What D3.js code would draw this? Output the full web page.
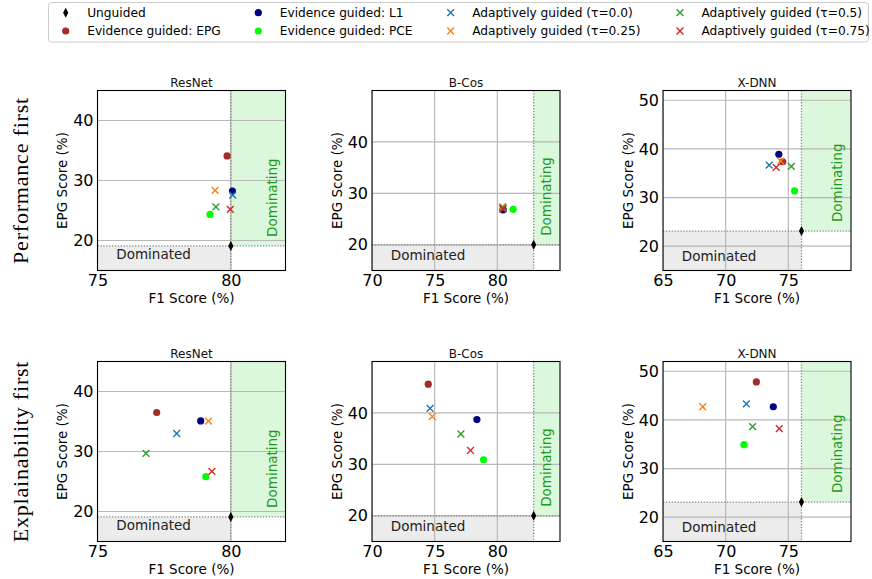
<!DOCTYPE html>
<html>
<head>
<meta charset="utf-8">
<script src="https://cdn.jsdelivr.net/npm/d3@7"></script>
<style>
  html, body { margin: 0; padding: 0; background: #fff; }
  svg { display: block; font-family: "DejaVu Sans", sans-serif; }
</style>
</head>
<body>
<svg id="chart" width="872" height="579"></svg>
<script>
// Panels: rows are training strategies, columns are backbones.
const models = ["ResNet", "B-Cos", "X-DNN"];
const strategies = ["Performance first", "Explainability first"];

// Axis limits and ticks per backbone column
const xLo = [75, 70, 65];
const xHi = [82.05, 85, 80];
const yLo = [15, 15, 15];
const yHi = [45, 50, 52];
const xTickVals = [[75, 80], [70, 75, 80], [65, 70, 75]];
const yTickVals = [[20, 30, 40], [20, 30, 40], [20, 30, 40, 50]];

// Unguided baseline per backbone (same in both rows)
const unguidedF1  = [80.0, 82.9, 76.05];
const unguidedEPG = [19.1, 20.0, 23.1];

// Values are ordered: Perf/ResNet, Perf/B-Cos, Perf/X-DNN, Expl/ResNet, Expl/B-Cos, Expl/X-DNN
const epgF1   = [79.86, 80.45, 74.55, 77.22, 74.49, 72.45];
const epgEPG  = [34.1, 26.9, 37.35, 36.5, 45.6, 47.8];
const l1F1    = [80.06, 80.45, 74.24, 78.87, 78.37, 73.8];
const l1EPG   = [28.25, 26.8, 38.9, 35.1, 38.7, 42.7];
const pceF1   = [79.22, 81.26, 75.5, 79.06, 78.9, 71.46];
const pceEPG  = [24.35, 26.9, 31.35, 25.8, 30.9, 34.9];
const tau0F1   = [80.07, 80.45, 73.47, 77.97, 74.63, 71.65];
const tau0EPG  = [27.55, 27.0, 36.65, 33.0, 40.9, 43.3];
const tau25F1  = [79.41, 80.4, 74.4, 79.16, 74.81, 68.17];
const tau25EPG = [28.35, 27.4, 37.5, 35.05, 39.3, 42.7];
const tau50F1  = [79.44, 80.45, 75.24, 76.82, 77.09, 72.15];
const tau50EPG = [25.6, 27.2, 36.4, 29.7, 35.9, 38.6];
const tau75F1  = [79.98, 80.45, 74.03, 79.29, 77.86, 74.28];
const tau75EPG = [25.2, 27.0, 36.2, 26.7, 32.7, 38.2];

const series = [
  { name: "Evidence guided: EPG",       shape: "circle", color: "#a52a2a", f1: epgF1,   epg: epgEPG },
  { name: "Evidence guided: L1",        shape: "circle", color: "#000080", f1: l1F1,    epg: l1EPG },
  { name: "Evidence guided: PCE",       shape: "circle", color: "#00ff00", f1: pceF1,   epg: pceEPG },
  { name: "Adaptively guided (τ=0.0)",  shape: "x",      color: "#1f77b4", f1: tau0F1,  epg: tau0EPG },
  { name: "Adaptively guided (τ=0.25)", shape: "x",      color: "#ff7f0e", f1: tau25F1, epg: tau25EPG },
  { name: "Adaptively guided (τ=0.5)",  shape: "x",      color: "#2ca02c", f1: tau50F1, epg: tau50EPG },
  { name: "Adaptively guided (τ=0.75)", shape: "x",      color: "#d62728", f1: tau75F1, epg: tau75EPG }
];

const svg = d3.select("#chart");

// Panel geometry
const colLeft = [97.5, 372, 663];
const rowTop = [90.5, 361.5];
const panelW = 188;
const panelH = 180;

function drawMarker(g, shape, color, x, y) {
  if (shape === "circle") {
    g.append("circle").attr("cx", x).attr("cy", y).attr("r", 3.6).attr("fill", color);
  } else if (shape === "x") {
    const s = 3.4;
    g.append("path")
      .attr("d", `M${x - s},${y - s}L${x + s},${y + s}M${x - s},${y + s}L${x + s},${y - s}`)
      .attr("stroke", color).attr("stroke-width", 1.4).attr("fill", "none");
  } else if (shape === "diamond") {
    g.append("path")
      .attr("d", `M${x},${y - 5}L${x + 2.6},${y}L${x},${y + 5}L${x - 2.6},${y}Z`)
      .attr("fill", "#000");
  }
}

strategies.forEach((strategy, r) => {
  models.forEach((model, c) => {
    const idx = r * 3 + c;
    const g = svg.append("g").attr("transform", `translate(${colLeft[c]},${rowTop[r]})`);
    const x = d3.scaleLinear().domain([xLo[c], xHi[c]]).range([0, panelW]);
    const y = d3.scaleLinear().domain([yLo[c], yHi[c]]).range([panelH, 0]);
    const ux = x(unguidedF1[c]);
    const uy = y(unguidedEPG[c]);

    const clip = `clip-${idx}`;
    g.append("clipPath").attr("id", clip)
      .append("rect").attr("width", panelW).attr("height", panelH);
    const plot = g.append("g").attr("clip-path", `url(#${clip})`);

    // Dominated (worse on both metrics) and dominating regions
    plot.append("rect").attr("x", 0).attr("y", uy).attr("width", ux).attr("height", panelH - uy)
      .attr("fill", "#ececec");
    plot.append("rect").attr("x", ux).attr("y", 0).attr("width", panelW - ux).attr("height", uy)
      .attr("fill", "#dcf8dc");

    // Grid
    plot.selectAll(".gx").data(xTickVals[c]).join("line")
      .attr("x1", d => x(d)).attr("x2", d => x(d)).attr("y1", 0).attr("y2", panelH)
      .attr("stroke", "#b8b8b8").attr("stroke-width", 1.2);
    plot.selectAll(".gy").data(yTickVals[c]).join("line")
      .attr("x1", 0).attr("x2", panelW).attr("y1", d => y(d)).attr("y2", d => y(d))
      .attr("stroke", "#b8b8b8").attr("stroke-width", 1.2);

    // Baseline reference lines
    plot.append("line").attr("x1", ux).attr("x2", ux).attr("y1", 0).attr("y2", panelH)
      .attr("stroke", "#888").attr("stroke-width", 1.3).attr("stroke-dasharray", "1.3,1.6");
    plot.append("line").attr("x1", 0).attr("x2", panelW).attr("y1", uy).attr("y2", uy)
      .attr("stroke", "#888").attr("stroke-width", 1.3).attr("stroke-dasharray", "1.3,1.6");

    // Region labels
    plot.append("text")
      .attr("x", x(xLo[c] + 0.1 * (xHi[c] - xLo[c]))).attr("y", y(17))
      .attr("font-size", 13.5).attr("fill", "#222").text("Dominated");
    plot.append("text")
      .attr("transform", `translate(${panelW - 9},${uy - 9}) rotate(-90)`)
      .attr("font-size", 13.5).attr("fill", "#1a9a1a").text("Dominating");

    // Points
    series.forEach(s => {
      drawMarker(plot, s.shape, s.color, x(s.f1[idx]), y(s.epg[idx]));
    });
    drawMarker(plot, "diamond", "#000", ux, uy);

    // Axes
    const ax = g.append("g").attr("transform", `translate(0,${panelH})`)
      .call(d3.axisBottom(x).tickValues(xTickVals[c]).tickFormat(d3.format("d"))
        .tickSize(0).tickPadding(4));
    const ay = g.append("g")
      .call(d3.axisLeft(y).tickValues(yTickVals[c]).tickFormat(d3.format("d"))
        .tickSize(0).tickPadding(4));
    [ax, ay].forEach(a => {
      a.attr("font-family", null).attr("font-size", null);
      a.select(".domain").remove();
      a.selectAll("text").attr("font-size", 16).attr("fill", "#000");
    });

    g.append("rect").attr("width", panelW).attr("height", panelH)
      .attr("fill", "none").attr("stroke", "#000").attr("stroke-width", 1.1);

    g.append("text").attr("x", panelW / 2).attr("y", -4).attr("text-anchor", "middle")
      .attr("font-size", 12).attr("font-weight", 400).attr("fill", "#111").text(model);
    g.append("text").attr("x", panelW / 2).attr("y", panelH + 32).attr("text-anchor", "middle")
      .attr("font-size", 13.5).text("F1 Score (%)");
    g.append("text").attr("transform", `translate(-30.5,${panelH / 2}) rotate(-90)`)
      .attr("text-anchor", "middle").attr("font-size", 13.5).text("EPG Score (%)");
  });

  // Row label
  svg.append("text")
    .attr("transform", `translate(28,${rowTop[r] + panelH / 2}) rotate(-90)`)
    .attr("text-anchor", "middle")
    .style("font-family", "'Liberation Serif', serif")
    .style("font-size", "22px")
    .style("letter-spacing", "0.8px")
    .text(strategy);
});

// Legend
const legendItems = [
  { name: "Unguided", shape: "diamond", color: "#000" },
  ...series
];
const legend = svg.append("g");
legend.append("rect").attr("x", 48.5).attr("y", 2.5).attr("width", 820).attr("height", 39.5)
  .attr("rx", 3).attr("fill", "#fff").attr("stroke", "#cccccc").attr("stroke-width", 1);
const legMarkerX = [65.7, 258.3, 450.7, 680];
const legRowY = [12.7, 31];
legendItems.forEach((it, i) => {
  const col = Math.floor(i / 2);
  const row = i % 2;
  const mx = legMarkerX[col];
  const my = legRowY[row];
  drawMarker(legend, it.shape, it.color, mx, my);
  legend.append("text").attr("x", mx + 21.5).attr("y", my + 4.4)
    .attr("font-size", 12.2).attr("fill", "#000").text(it.name);
});
</script>
</body>
</html>
